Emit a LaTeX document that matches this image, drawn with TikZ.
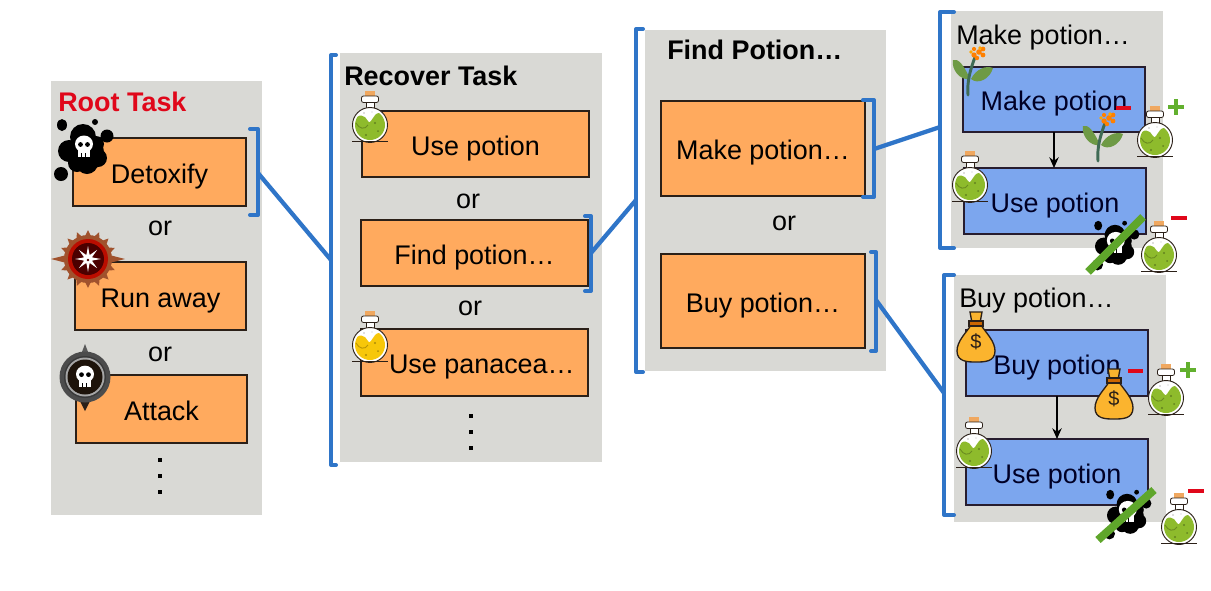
\documentclass[tikz,border=0pt]{standalone}
\usepackage{fontspec}
\setmainfont{Liberation Sans}
\usetikzlibrary{arrows.meta,calc}
\definecolor{panelc}{HTML}{D9D9D5}
\definecolor{orangec}{HTML}{FFAA5E}
\definecolor{bluec}{HTML}{7CA6EE}
\definecolor{brc}{HTML}{2F75C8}
\definecolor{redc}{HTML}{E0071A}
\definecolor{plusc}{HTML}{62B02E}
\definecolor{slashc}{HTML}{5FA62B}
\definecolor{liq}{HTML}{8EBB2C}
\definecolor{pan}{HTML}{F7C70A}
\definecolor{corkc}{HTML}{F0A860}
\definecolor{bagc}{HTML}{FBB42E}
\definecolor{ink}{HTML}{2B2018}
\definecolor{stemc}{HTML}{3F6B55}
\definecolor{leafc}{HTML}{6E9A45}
\definecolor{rust}{HTML}{A0522D}
\newcommand{\lbl}{\fontsize{20.2}{24}\selectfont}
\newcommand{\pxbox}[7]{\node[#2,minimum width={(#5-#3)*.75pt},minimum height={(#6-#4)*.75pt}] (#1) at ({(#3+#5)/2},{(#4+#6)/2}) {#7};}
\tikzset{
  x=.75pt,y=-.75pt,
  panel/.style={fill=panelc,draw=none,inner sep=0pt,outer sep=0pt},
  obox/.style={fill=orangec,draw=ink,line width=1.2pt,inner sep=0pt,outer sep=0pt,font=\lbl,text=black,text height=18pt,text depth=1.5pt},
  bbox/.style={fill=bluec,draw=ink!90!blue,line width=1pt,inner sep=0pt,outer sep=0pt,font=\lbl,text=black!85!blue,text height=18pt,text depth=1.5pt},
  txt/.style={font=\lbl,inner sep=0pt,text=black},
  hdr/.style={font=\lbl\bfseries,inner sep=0pt,anchor=west},
  bracket/.style={draw=brc,line width=3pt,line join=round,line cap=round},
  link/.style={draw=brc,line width=3.2pt},
  flow/.style={draw=black,line width=2pt,-{Stealth[length=8pt,width=7pt]}},
  minusr/.style={draw=redc,line width=2.6pt},
  plusg/.style={draw=plusc,line width=2.8pt},
  dot/.style={fill=black,draw=none},
  slash/.style={draw=slashc,line width=6pt},
  pics/potion/.style={code={
    \fill[corkc] (-5,-34) rectangle (5,-28);
    \fill[white,draw=ink,line width=.6pt] (-4,-24) rectangle (4,-15);
    \fill[white,draw=ink,line width=.6pt,rounded corners=1.5pt] (-8.5,-29) rectangle (8.5,-22.5);
    \fill[white,draw=ink,line width=.7pt] (0,0) circle (17.5);
    \begin{scope}
      \clip (0,0) circle (15);
      \fill[#1] (-16,-3) .. controls (-12,-13) and (-5,-10) .. (-2,-4)
        .. controls (1,1) and (3,-12) .. (9,-12)
        .. controls (13,-12) and (15,-6) .. (16,-3) -- (16,16) -- (-16,16) -- cycle;
      \draw[#1!75!black,line width=.7pt] (-14,-2) .. controls (-11,4) and (-5,5) .. (-2,0);
      \fill[#1!70!black] (5,-2) circle (1.2) (-4,10) circle (1.2) (8,6) circle (1);
      \fill[lightgray] (-6,-12) circle (.9) (2,-13) circle (.7);
    \end{scope}
    \draw[ink,line width=.8pt] (-18,16.5) -- (18,16.5);
  }},
  pics/skull/.style={code={
    \fill[white] (0,-2) ellipse (9 and 8.5);
    \fill[white] (-6,2) rectangle (6,11);
    \fill[black] (-3.5,-1.5) circle (2.4) (3.5,-1.5) circle (2.4);
    \draw[black,line width=.5pt] (-2.5,7) -- (-2.5,11) (1,7) -- (1,11);
  }},
  pics/splat/.style={code={
    \fill[black] (0,-16) circle (13) (-14,-2) circle (11) (2,0) circle (19) (15,5) circle (9) (13,-9) circle (8) (4,10) circle (11) (-6,10) circle (9);
    \fill[black] (-21,-28) ellipse (5 and 6) (12,-31) circle (3) (24,-17) circle (6.5) (-22,21) circle (7);
    \begin{scope}[shift={(1,-7)}]\pic {skull};\end{scope}
  }},
  pics/flower/.style={code={
    \fill[leafc] (2,-16) .. controls (-4,-30) and (-10,-37) .. (-15,-35) .. controls (-17,-26) and (-8,-14) .. (2,-16) -- cycle;
    \fill[leafc] (3,-16) .. controls (8,-26) and (18,-30) .. (25,-27) .. controls (22,-16) and (10,-10) .. (3,-16) -- cycle;
    \draw[stemc,line width=2.2pt,line cap=round] (0,0) .. controls (-1,-14) and (2,-24) .. (7,-38);
    \fill[orange] (6,-40) circle (2.6) (11,-43) circle (2.8) (15,-46) circle (2.4) (9,-37) circle (2.2) (6,-46) circle (2.1) (15,-40) circle (2.4);
    \fill[orange!70!yellow] (12,-47) circle (1.8) (3,-43) circle (1.8);
  }},
  pics/bag/.style={code={
    \fill[bagc,draw=ink,line width=1pt] (-6,-25) -- (6,-25) -- (4,-14) -- (-4,-14) -- cycle;
    \fill[bagc,draw=ink,line width=1pt] (-5,-12) .. controls (-10,-4) and (-19,4) .. (-19,14)
      .. controls (-19,25) and (-8,25) .. (0,25)
      .. controls (8,25) and (19,25) .. (19,14)
      .. controls (19,4) and (10,-4) .. (5,-12) -- cycle;
    \fill[orange!80!black,draw=ink,line width=.8pt] (-7,-16) rectangle (7,-11);
    \node[inner sep=0pt,font=\fontsize{15}{17}\selectfont,text=ink] (dollar) at (0,5) {\$};
  }},
  pics/redmedal/.style={code={
    \foreach \a in {0,22.5,...,337.5} {\fill[rust] (\a-11:21) -- (\a:29) -- (\a+11:21) -- cycle;}
    \foreach \a in {0,180} {\fill[rust] (\a-13:20) -- (\a:37) -- (\a+13:20) -- cycle;}
    \fill[rust] (0,0) circle (24);
    \fill[red!70!black!90!orange] (0,0) circle (20);
    \fill[red!30!black] (0,0) circle (16);
    \foreach \a in {0,45,...,315} {\fill[white] (\a-24:4) -- (\a:13) -- (\a+24:4) -- cycle;}
    \fill[white] (0,0) circle (5);
    \fill[red!30!black] (0,1) circle (1.4);
  }},
  pics/darkmedal/.style={code={
    \fill[gray!70!black] (-5,-20) -- (0,-33) -- (5,-20) -- cycle;
    \fill[ink] (-7,20) -- (0,34) -- (7,20) -- cycle;
    \fill[black!70] (0,0) circle (25.5);
    \fill[gray!45!black] (0,0) circle (21);
    \fill[gray!70] (0,0) circle (19.5);
    \fill[black!85!brown] (0,0) circle (17.5);
    \begin{scope}[scale=.85,shift={(0,-1)}]\pic {skull};\end{scope}
  }},
}
\begin{document}
\begin{tikzpicture}
\useasboundingbox (0,0) rectangle (1211,590);
% panels
\pxbox{rootP}{panel}{51}{81}{262}{515}{}
\pxbox{recP}{panel}{340}{53}{602}{462}{}
\pxbox{findP}{panel}{645}{30}{886}{371}{}
\pxbox{makeP}{panel}{951}{11}{1163}{248}{}
\pxbox{buyP}{panel}{954}{275}{1166}{522}{}
% headings
\node[hdr,text=redc] (rootH) at (58,102) {Root Task};
\node[hdr] (recH) at (344,76) {Recover Task};
\node[hdr] (findH) at (667,50) {Find Potion…};
\node[txt,anchor=west] (makeH) at (956,38) {Make potion…};
\node[txt,anchor=west] (buyH) at (959,301) {Buy potion…};
% orange boxes
\pxbox{detox}{obox}{73}{138}{246}{206}{Detoxify}
\pxbox{run}{obox}{75}{262}{246}{330}{Run away}
\pxbox{attack}{obox}{76}{375}{247}{443}{Attack}
\pxbox{usep}{obox}{362}{111}{589}{177}{Use potion}
\pxbox{findp}{obox}{361}{220}{588}{286}{Find potion…}
\pxbox{usepan}{obox}{361}{329}{588}{396}{\hspace*{11pt}Use panacea…}
\pxbox{makep}{obox}{661}{101}{865}{196}{Make potion…}
\pxbox{buyp}{obox}{661}{254}{865}{348}{Buy potion…}
% or
\node[txt] (or1) at (160,228) {or};
\node[txt] (or2) at (160,354) {or};
\node[txt] (or3) at (468,201) {or};
\node[txt] (or4) at (470,308) {or};
\node[txt] (or5) at (784,223) {or};
% dots
\foreach \y in {460,476,492} {\fill[dot] (157.5,\y-2) rectangle (161.5,\y+2);}
\foreach \y in {416,432,448} {\fill[dot] (469,\y-2) rectangle (473,\y+2);}
% blue boxes
\pxbox{mk}{bbox}{963}{67}{1145}{132}{Make potion}
\pxbox{mku}{bbox}{964}{168}{1146}{234}{Use potion}
\pxbox{by}{bbox}{966}{330}{1148}{396}{Buy potion}
\pxbox{byu}{bbox}{966}{439}{1148}{505}{Use potion}
\draw[flow] (mk.south) -- (mk.south |- mku.north);
\draw[flow] (by.south) -- (by.south |- byu.north);
% brackets
\draw[bracket] (250,129) -- (258,129) -- (258,215) -- (250,215);
\draw[bracket] (336,55) -- (331,55) -- (331,465) -- (336,465);
\draw[bracket] (585,216) -- (591,216) -- (591,291) -- (585,291);
\draw[bracket] (643,29) -- (636,29) -- (636,372) -- (643,372);
\draw[bracket] (863,100) -- (874,100) -- (874,197) -- (863,197);
\draw[bracket] (871,252) -- (876,252) -- (876,351) -- (871,351);
\draw[bracket] (954,12) -- (940,12) -- (940,248) -- (954,248);
\draw[bracket] (954,275) -- (944,275) -- (944,515) -- (954,515);
% connectors
\coordinate (c1) at (258,173);
\coordinate (c2) at (331,260);
\coordinate (c3) at (591,253);
\coordinate (c4) at (636,200);
\coordinate (c5) at (874,149);
\coordinate (c6) at (940,127);
\coordinate (c7) at (876,300);
\coordinate (c8) at (944,393);
\draw[link] (c1) -- (c2);
\draw[link] (c3) -- (c4);
\draw[link] (c5) -- (c6);
\draw[link] (c7) -- (c8);
% icons left
\pic at (83,153) {splat};
\pic at (88,259) {redmedal};
\pic at (85,377) {darkmedal};
% potions
\pic at (370,125) {potion=liq};
\pic at (370,345) {potion=pan};
\pic at (970,185) {potion=liq};
\pic at (1155,140) {potion=liq};
\pic at (1159,255) {potion=liq};
\pic at (974,451) {potion=liq};
\pic at (1166,398) {potion=liq};
\pic at (1179,527) {potion=liq};
% flowers, bags
\pic at (968,95) {flower=green};
\pic at (1098,161) {flower=green};
\pic at (976,337) {bag};
\pic at (1114,394) {bag};
% crossed splats
\pic[scale=.8] at (1115,248) {splat};
\pic[scale=.8] at (1127,517) {splat};
\coordinate (s1a) at (1088,272); \coordinate (s1b) at (1143,217);
\coordinate (s2a) at (1098,540); \coordinate (s2b) at (1154,490);
\draw[slash] (s1a) -- (s1b);
\draw[slash] (s2a) -- (s2b);
% plus and minus
\coordinate (m1a) at (1116,108); \coordinate (m1b) at (1131,108);
\coordinate (m2a) at (1171,218); \coordinate (m2b) at (1187,218);
\coordinate (m3a) at (1128,371); \coordinate (m3b) at (1143,371);
\coordinate (m4a) at (1188,491); \coordinate (m4b) at (1204,491);
\draw[minusr] (m1a) -- (m1b);
\draw[minusr] (m2a) -- (m2b);
\draw[minusr] (m3a) -- (m3b);
\draw[minusr] (m4a) -- (m4b);
\coordinate (p1) at (1176,107);
\coordinate (p2) at (1188,370);
\draw[plusg] ($(p1)+(-8,0)$) -- ($(p1)+(8,0)$) ($(p1)+(0,-8)$) -- ($(p1)+(0,8)$);
\draw[plusg] ($(p2)+(-8,0)$) -- ($(p2)+(8,0)$) ($(p2)+(0,-8)$) -- ($(p2)+(0,8)$);
\end{tikzpicture}
\end{document}
